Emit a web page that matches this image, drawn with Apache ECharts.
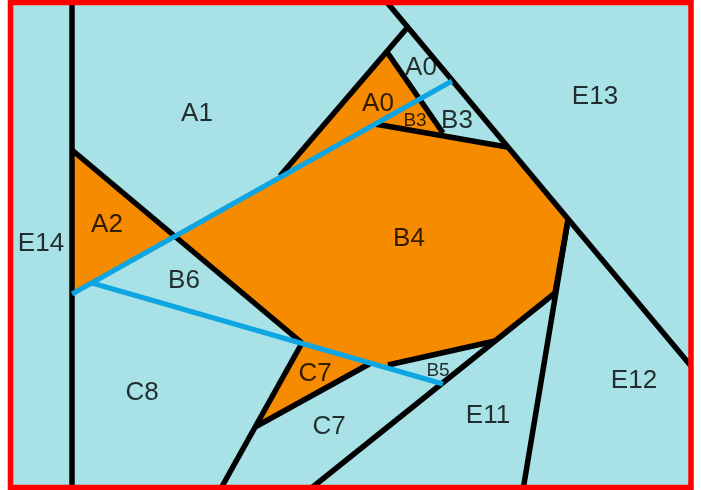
<!DOCTYPE html>
<html>
<head>
<meta charset="utf-8">
<script src="https://cdn.jsdelivr.net/npm/echarts@6/dist/echarts.min.js"></script>
<style>
  html, body { margin: 0; padding: 0; background: #fff; }
  #chart { width: 701px; height: 490px; }
</style>
</head>
<body>
<div id="chart"></div>
<script>
// picture coordinates (x right, y down), in pixels of the 701x490 frame
const frame = [[10.5, 2.5], [691, 2.5], [691, 487.5], [10.5, 487.5]]

const orangeAreas = [
  [[72, 150], [175, 236], [72, 294]],
  [[175, 236], [280, 176], [387, 52], [443, 133], [507, 147], [568, 220], [555, 293], [495, 341], [388, 367], [302, 343]],
  [[302, 343], [371, 363], [255, 427]]
]

const blackLines = [
  [[72, 0], [72, 490]],
  [[72, 150], [302, 343]],
  [[407, 28], [280, 176]],
  [[387, 52], [443, 133]],
  [[375, 124], [507, 147]],
  [[385, 0], [691, 366]],
  [[568, 220], [523, 490]],
  [[568, 220], [555, 293]],
  [[555, 293], [309, 490]],
  [[388, 365], [495, 341]],
  [[302, 343], [220, 490]],
  [[255, 427], [371, 363]]
]

const blueLines = [
  [[72, 294], [452, 81]],
  [[92, 283], [443, 384]]
]

const labelNames = ['A1', 'A0', 'A0', 'B3', 'B3', 'E13', 'E14', 'A2', 'B6', 'B4', 'C8', 'C7', 'C7', 'B5', 'E11', 'E12']
const labelX = [197, 421, 378, 415, 457, 595, 41, 107, 184, 409, 142, 315, 329, 438, 488, 634]
const labelY = [112, 66, 102, 119, 119, 95, 242, 223, 279, 237, 391, 372, 425, 369, 414, 379]
const smallLabels = [3, 13]

const FONT = 'Liberation Sans, Arial, sans-serif'

function shapeSeries (name, shapes, type, style, z) {
  return {
    name: name,
    type: 'custom',
    coordinateSystem: 'cartesian2d',
    clip: false,
    silent: true,
    z: z,
    data: shapes.map((s, i) => [i]),
    renderItem: (params, api) => {
      const pts = shapes[api.value(0)].map(p => api.coord(p))
      return {
        type: type,
        shape: { points: pts },
        style: style
      }
    }
  }
}

const chart = echarts.init(document.getElementById('chart'), null, { renderer: 'canvas' })

const option = {
  animation: false,
  backgroundColor: '#ffffff',
  grid: { left: 0, right: 0, top: 0, bottom: 0 },
  xAxis: { type: 'value', min: 0, max: 701, show: false },
  yAxis: { type: 'value', min: 0, max: 490, inverse: true, show: false },
  series: [
    shapeSeries('background', [frame], 'polygon', { fill: '#a8e2e6', stroke: null }, 1),
    shapeSeries('orange', orangeAreas, 'polygon', { fill: '#f78b00', stroke: null }, 2),
    shapeSeries('black', blackLines, 'polyline', { fill: null, stroke: '#000000', lineWidth: 5.5 }, 3),
    shapeSeries('blue', blueLines, 'polyline', { fill: null, stroke: '#0ea6e2', lineWidth: 5 }, 4),
    shapeSeries('frame', [frame], 'polygon', { fill: null, stroke: '#ff0000', lineWidth: 5.5 }, 6),
    {
      name: 'labels',
      type: 'scatter',
      z: 5,
      silent: true,
      symbolSize: 0,
      data: labelNames.map((n, i) => ({
        value: [labelX[i], labelY[i]],
        name: n,
        label: {
          fontSize: smallLabels.includes(i) ? 19 : 26
        }
      })),
      label: {
        show: true,
        position: 'inside',
        offset: [0, 2],
        formatter: p => p.name,
        color: '#000000',
        textBorderWidth: 0,
        fontFamily: FONT,
        fontSize: 26,
        align: 'center',
        verticalAlign: 'middle'
      }
    }
  ]
}

chart.setOption(option)
</script>
</body>
</html>
